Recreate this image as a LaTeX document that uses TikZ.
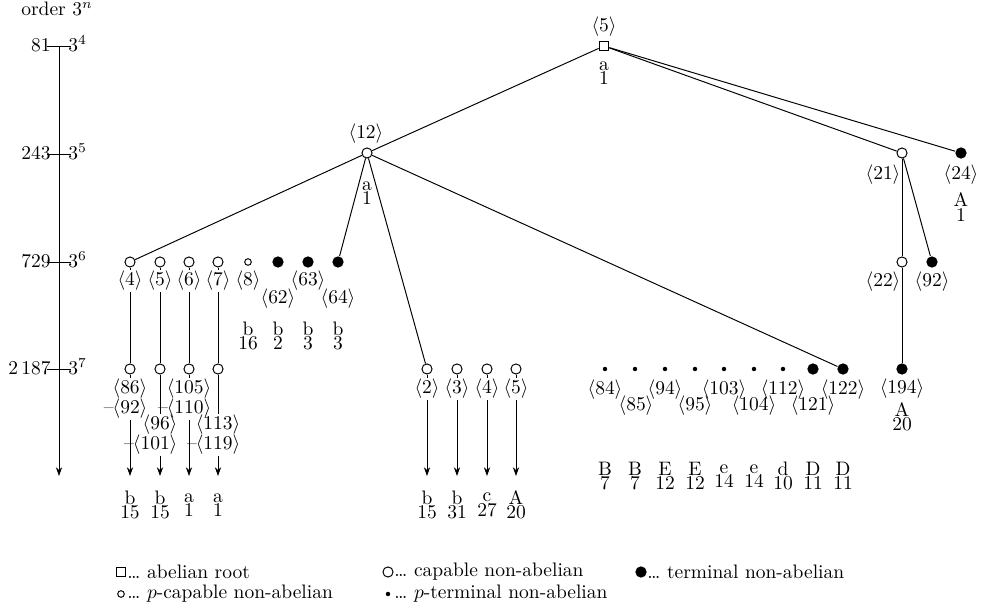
\documentclass[tikz,border=0pt]{standalone}
\usetikzlibrary{arrows.meta}
\begin{document}
\begin{tikzpicture}[x=0.513pt,y=-0.513pt,line width=0.5pt,
  capv/.style={circle,draw,fill=white,inner sep=0pt,minimum size=5.2pt},
  termv/.style={circle,fill=black,inner sep=0pt,minimum size=5.8pt},
  pcapv/.style={circle,draw,fill=white,inner sep=0pt,minimum size=3.4pt},
  ptermv/.style={circle,fill=black,inner sep=0pt,minimum size=2.3pt},
  rootbox/.style={rectangle,draw,fill=white,inner sep=0pt,minimum size=5pt},
  lbl/.style={inner sep=0.5pt},
  stk/.style={align=center,inner sep=0pt,font={\fontsize{10}{7.4}\selectfont\lineskiplimit=-10pt}},
  arr/.style={-{Stealth[length=4.5pt,width=3.2pt]}}]
\useasboundingbox (0,0) rectangle (983,612);

% axis
\node[anchor=base] (ord) at (57,16) {order $3^n$};
\coordinate (ax4) at (59,46);
\coordinate (ax5) at (59,154);
\coordinate (ax6) at (59,262);
\coordinate (ax7) at (59,369);
\coordinate (axend) at (59,476);
\draw[arr] (ax4) -- (axend);
\foreach \c in {ax4,ax5,ax6,ax7}{\draw ([xshift=-6]\c) -- ([xshift=6]\c);}
\node[anchor=base east,inner sep=0pt] (o81) at (51,52) {81};
\node[anchor=base west,inner sep=0pt] (p4) at (68,52) {$3^4$};
\node[anchor=base east,inner sep=0pt] (o243) at (51,160) {243};
\node[anchor=base west,inner sep=0pt] (p5) at (68,160) {$3^5$};
\node[anchor=base east,inner sep=0pt] (o729) at (51,268) {729};
\node[anchor=base west,inner sep=0pt] (p6) at (68,268) {$3^6$};
\node[anchor=base east,inner sep=0pt] (o2187) at (51,375) {2\,187};
\node[anchor=base west,inner sep=0pt] (p7) at (68,375) {$3^7$};

% vertices
\node[rootbox] (r) at (604,46) {};
\node[capv] (n12) at (367,153) {};
\node[capv] (n21) at (902,153) {};
\node[termv] (n24) at (961,153) {};
\node[capv] (a4) at (130,262) {};
\node[capv] (a5) at (160,262) {};
\node[capv] (a6) at (189,262) {};
\node[capv] (a7) at (218,262) {};
\node[pcapv] (a8) at (248,262) {};
\node[termv] (a62) at (278,262) {};
\node[termv] (a63) at (308,262) {};
\node[termv] (a64) at (338,262) {};
\node[capv] (n22) at (902,262) {};
\node[termv] (n92) at (932,262) {};
\node[capv] (b86) at (130,369) {};
\node[capv] (b96) at (160,369) {};
\node[capv] (b105) at (189,369) {};
\node[capv] (b113) at (218,369) {};
\node[capv] (b2) at (427,369) {};
\node[capv] (b3) at (457,369) {};
\node[capv] (b4) at (487,369) {};
\node[capv] (b5) at (516,369) {};
\node[ptermv] (b84) at (605,369) {};
\node[ptermv] (b85) at (635,369) {};
\node[ptermv] (b94) at (665,369) {};
\node[ptermv] (b95) at (695,369) {};
\node[ptermv] (b103) at (724,369) {};
\node[ptermv] (b104) at (754,369) {};
\node[ptermv] (b112) at (783,369) {};
\node[termv] (b121) at (813,369) {};
\node[termv] (b122) at (843,369) {};
\node[termv] (n194) at (902,369) {};

% labels
\node[lbl] (lr) at (604,27) {$\langle5\rangle$};
\node[stk] (sr) at (604,73) {a\\1};
\node[lbl] (l12) at (366,134) {$\langle12\rangle$};
\node[stk] (s12) at (367,193) {a\\1};
\node[lbl] (l21) at (883,175) {$\langle21\rangle$};
\node[lbl] (l24) at (961,175) {$\langle24\rangle$};
\node[stk] (s24) at (961,207) {A\\1};
\node[lbl] (l4) at (130,281) {$\langle4\rangle$};
\node[lbl] (l5) at (160,281) {$\langle5\rangle$};
\node[lbl] (l6) at (189,281) {$\langle6\rangle$};
\node[lbl] (l7) at (218,281) {$\langle7\rangle$};
\node[lbl] (l8) at (248,281) {$\langle8\rangle$};
\node[lbl] (l62) at (278,299) {$\langle62\rangle$};
\node[lbl] (l63) at (308,281) {$\langle63\rangle$};
\node[lbl] (l64) at (338,299) {$\langle64\rangle$};
\node[stk] (s8) at (248,336) {b\\16};
\node[stk] (s62) at (278,336) {b\\2};
\node[stk] (s63) at (308,336) {b\\3};
\node[stk] (s64) at (338,336) {b\\3};
\node[lbl] (l22) at (883,282) {$\langle22\rangle$};
\node[lbl] (l92) at (932,282) {$\langle92\rangle$};
\node[lbl] (l194) at (902,389) {$\langle194\rangle$};
\node[stk] (s194) at (902,417) {A\\20};

\node[lbl] (l86) at (130,389) {$\langle86\rangle$};
\node[lbl,anchor=north east] (l92b) at ([yshift=1.5]l86.south east) {--\kern-0.5pt$\langle92\rangle$};
\node[lbl] (l96) at (160,425) {$\langle96\rangle$};
\node[lbl,anchor=north east] (l101) at ([yshift=1.5]l96.south east) {--\kern-0.5pt$\langle101\rangle$};
\node[lbl] (l105) at (189,389) {$\langle105\rangle$};
\node[lbl,anchor=north east] (l110) at ([yshift=1.5]l105.south east) {--\kern-0.5pt$\langle110\rangle$};
\node[lbl] (l113) at (218,425) {$\langle113\rangle$};
\node[lbl,anchor=north east] (l119) at ([yshift=1.5]l113.south east) {--\kern-0.5pt$\langle119\rangle$};

\node[lbl] (l2) at (427,389) {$\langle2\rangle$};
\node[lbl] (l3) at (457,389) {$\langle3\rangle$};
\node[lbl] (l4b) at (487,389) {$\langle4\rangle$};
\node[lbl] (l5b) at (516,389) {$\langle5\rangle$};

\node[lbl] (l84) at (605,390) {$\langle84\rangle$};
\node[lbl] (l85) at (636,406) {$\langle85\rangle$};
\node[lbl] (l94) at (665,390) {$\langle94\rangle$};
\node[lbl] (l95) at (695,406) {$\langle95\rangle$};
\node[lbl] (l103) at (724,390) {$\langle103\rangle$};
\node[lbl] (l104) at (754,406) {$\langle104\rangle$};
\node[lbl] (l112) at (783,390) {$\langle112\rangle$};
\node[lbl] (l121) at (813,406) {$\langle121\rangle$};
\node[lbl] (l122) at (843,390) {$\langle122\rangle$};

% arrow ends
\coordinate (e86) at (130,476);
\coordinate (e96) at (160,476);
\coordinate (e105) at (189,476);
\coordinate (e113) at (218,476);
\coordinate (e2) at (427,476);
\coordinate (e3) at (457,476);
\coordinate (e4) at (487,476);
\coordinate (e5) at (516,476);

% bottom type labels
\node[stk] (t86) at (130,505) {b\\15};
\node[stk] (t96) at (160,505) {b\\15};
\node[stk] (t105) at (189,505) {a\\1};
\node[stk] (t113) at (218,505) {a\\1};
\node[stk] (t2) at (427,505) {b\\15};
\node[stk] (t3) at (457,505) {b\\31};
\node[stk] (t4) at (487,505) {c\\27};
\node[stk] (t5) at (516,505) {A\\20};
\node[stk] (t84) at (605,476) {B\\7};
\node[stk] (t85) at (635,476) {B\\7};
\node[stk] (t94) at (665,476) {E\\12};
\node[stk] (t95) at (695,476) {E\\12};
\node[stk] (t103) at (724,476) {e\\14};
\node[stk] (t104) at (754,476) {e\\14};
\node[stk] (t112) at (783,476) {d\\10};
\node[stk] (t121) at (813,476) {D\\11};
\node[stk] (t122) at (843,476) {D\\11};

% edges
\draw (r) -- (n12);
\draw (r) -- (n21);
\draw (r) -- (n24);
\draw (n12) -- (a4);
\draw (n12) -- (a64);
\draw (n12) -- (b2);
\draw (n12) -- (b122);
\draw (n21) -- (n22);
\draw (n21) -- (n92);
\draw (n22) -- (n194);
\draw (a4) -- (l4.north);
\draw (l4.south) -- (b86);
\draw (a5) -- (l5.north);
\draw (l5.south) -- (b96);
\draw (a6) -- (l6.north);
\draw (l6.south) -- (b105);
\draw (a7) -- (l7.north);
\draw (l7.south) -- (b113);
\draw (b86) -- (l86.north);
\draw[arr] (l92b.south -| b86) -- (e86);
\draw (b96) -- (l96.north);
\draw[arr] (l101.south -| b96) -- (e96);
\draw (b105) -- (l105.north);
\draw[arr] (l110.south -| b105) -- (e105);
\draw (b113) -- (l113.north);
\draw[arr] (l119.south -| b113) -- (e113);
\draw (b2) -- (l2.north);
\draw[arr] (l2.south) -- (e2);
\draw (b3) -- (l3.north);
\draw[arr] (l3.south) -- (e3);
\draw (b4) -- (l4b.north);
\draw[arr] (l4b.south) -- (e4);
\draw (b5) -- (l5b.north);
\draw[arr] (l5b.south) -- (e5);

% legend
\node[rootbox] (k1) at (121,572) {};
\node[anchor=west,inner sep=0pt] (k1t) at (127,572) {\dots\ abelian root};
\node[capv] (k2) at (388,572) {};
\node[anchor=west,inner sep=0pt] (k2t) at (394,572) {\dots\ capable non-abelian};
\node[termv] (k3) at (641,572) {};
\node[anchor=west,inner sep=0pt] (k3t) at (647,572) {\dots\ terminal non-abelian};
\node[pcapv] (k4) at (121,594) {};
\node[anchor=west,inner sep=0pt] (k4t) at (127,594) {\dots\ $p$-capable non-abelian};
\node[ptermv] (k5) at (388,594) {};
\node[anchor=west,inner sep=0pt] (k5t) at (394,594) {\dots\ $p$-terminal non-abelian};
\end{tikzpicture}
\end{document}
